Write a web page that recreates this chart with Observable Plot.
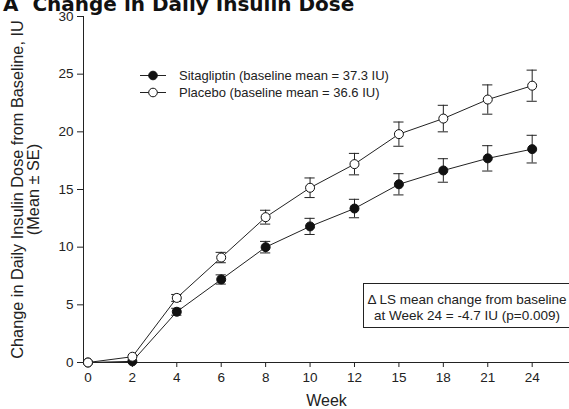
<!DOCTYPE html>
<html>
<head>
<meta charset="utf-8">
<script src="https://cdn.jsdelivr.net/npm/d3@7"></script>
<script src="https://cdn.jsdelivr.net/npm/@observablehq/plot@0.6"></script>
<style>
  html, body { margin: 0; padding: 0; background: #fff; }
  body { width: 569px; height: 409px; overflow: hidden; position: relative; font-family: "Liberation Sans", Arial, sans-serif; }
  #title { position: absolute; left: 3px; top: -8px; font-family: "DejaVu Sans", sans-serif; font-weight: 700; font-size: 20px; color: #111; white-space: nowrap; z-index: 2; }
  #legend { position: absolute; left: 139px; top: 67px; font-size: 13px; color: #222; line-height: 17px; }
  #legend div { display: flex; align-items: center; white-space: nowrap; }
  #legend svg { margin-right: 12px; }
  #note { position: absolute; left: 363px; top: 283px; width: 215px; height: 45px; border: 1px solid #222; font-size: 13.5px; color: #222; line-height: 16px; box-sizing: border-box; padding-top: 8px; }
  #note div { width: 206px; text-align: center; white-space: nowrap; }
</style>
</head>
<body>
<div id="title">A&nbsp; Change in Daily Insulin Dose</div>
<div id="chart"></div>
<div id="legend"></div>
<div id="note"><div>Δ LS mean change from baseline</div><div>at Week 24 = -4.7 IU (p=0.009)</div></div>
<script>
const weeks = [0, 2, 4, 6, 8, 10, 12, 15, 18, 21, 24];
const sitaMean = [0, 0.1, 4.4, 7.2, 10.0, 11.8, 13.35, 15.45, 16.65, 17.7, 18.5];
const sitaSE   = [0, 0.1, 0.3, 0.4, 0.5, 0.7, 0.8, 0.92, 1.02, 1.1, 1.2];
const placMean = [0, 0.5, 5.6, 9.1, 12.6, 15.15, 17.2, 19.8, 21.15, 22.8, 24.0];
const placSE   = [0, 0.1, 0.3, 0.45, 0.6, 0.85, 0.93, 1.05, 1.15, 1.27, 1.35];
const seriesNames = ["Sitagliptin", "Placebo"];
const legendLabels = ["Sitagliptin (baseline mean = 37.3 IU)", "Placebo (baseline mean = 36.6 IU)"];
const yTicks = [0, 5, 10, 15, 20, 25, 30];
const yLabel = "Change in Daily Insulin Dose from Baseline, IU\n(Mean ± SE)";
const xLabel = "Week";

const fills = {Sitagliptin: "#111", Placebo: "#fff"};
const rows = [];
weeks.forEach((w, i) => {
  rows.push({series: "Sitagliptin", i, week: w, mean: sitaMean[i], se: sitaSE[i]});
  rows.push({series: "Placebo", i, week: w, mean: placMean[i], se: placSE[i]});
});
const errRows = rows.filter(d => d.se > 0.15);
const cap = 0.115;
const ink = "#222";

const chart = Plot.plot({
  width: 569,
  height: 409,
  marginLeft: 83,
  marginRight: 0,
  marginTop: 16,
  marginBottom: 47,
  style: {fontFamily: "'Liberation Sans', Arial, sans-serif", fontSize: "13px", color: ink, background: "#fff"},
  x: {type: "linear", domain: [-0.1, 10.84], axis: null},
  y: {domain: [0, 30], axis: null},
  marks: [
    Plot.axisY({ticks: yTicks, tickSize: 6, tickPadding: 4, label: null, fontSize: 13.5, stroke: ink}),
    Plot.axisX({ticks: weeks.map((w, i) => i), tickFormat: i => weeks[i], tickSize: 5, tickPadding: 5, label: null, fontSize: 13.5, stroke: ink}),
    Plot.ruleY([0], {stroke: ink, strokeWidth: 1}),
    Plot.ruleX([-0.1], {y1: 0, y2: 30, stroke: ink, strokeWidth: 1}),
    Plot.ruleX(errRows, {x: "i", y1: d => d.mean - d.se, y2: d => d.mean + d.se, stroke: ink, strokeWidth: 1}),
    Plot.ruleY(errRows, {y: d => d.mean - d.se, x1: d => d.i - cap, x2: d => d.i + cap, stroke: ink, strokeWidth: 1}),
    Plot.ruleY(errRows, {y: d => d.mean + d.se, x1: d => d.i - cap, x2: d => d.i + cap, stroke: ink, strokeWidth: 1}),
    Plot.line(rows, {x: "i", y: "mean", z: "series", stroke: ink, strokeWidth: 1}),
    Plot.dot(rows, {x: "i", y: "mean", r: 4.5, fill: d => fills[d.series], stroke: "#111", strokeWidth: 1}),
    Plot.text([yLabel], {frameAnchor: "left", rotate: -90, dx: -58, textAnchor: "middle", lineAnchor: "middle", fontSize: 16.3, lineHeight: 1.0, fill: ink}),
    Plot.text([xLabel], {frameAnchor: "bottom", dy: 38, textAnchor: "middle", lineAnchor: "middle", fontSize: 16, fill: ink})
  ]
});
document.getElementById("chart").appendChild(chart);

const legend = document.getElementById("legend");
seriesNames.forEach((s, k) => {
  const row = document.createElement("div");
  row.innerHTML = `<svg width="28" height="17"><line x1="1" x2="27" y1="8.5" y2="8.5" stroke="${ink}" stroke-width="1"/><circle cx="14" cy="8.5" r="4.3" fill="${fills[s]}" stroke="#111" stroke-width="1"/></svg><span>${legendLabels[k]}</span>`;
  legend.appendChild(row);
});
</script>
</body>
</html>
